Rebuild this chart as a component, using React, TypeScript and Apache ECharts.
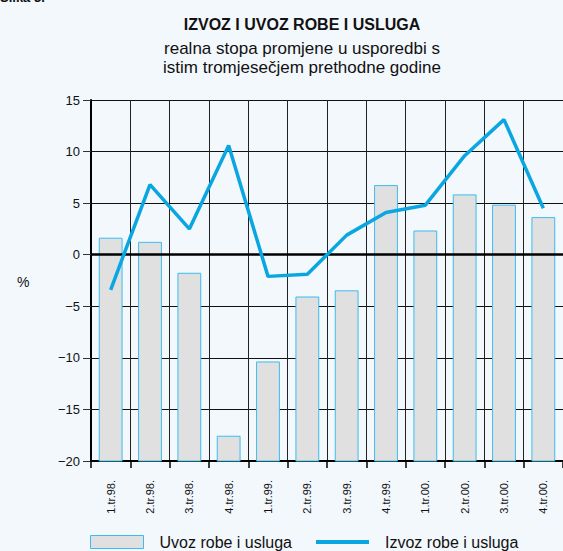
import React, { useEffect, useRef } from "react";
import * as echarts from "echarts";

const categories = ["1.tr.98.", "2.tr.98.", "3.tr.98.", "4.tr.98.", "1.tr.99.", "2.tr.99.", "3.tr.99.", "4.tr.99.", "1.tr.00.", "2.tr.00.", "3.tr.00.", "4.tr.00."];
const uvoz = [1.6, 1.2, -1.8, -17.6, -10.4, -4.1, -3.5, 6.7, 2.3, 5.8, 4.8, 3.6];
const izvoz = [-3.4, 6.8, 2.5, 10.6, -2.1, -1.9, 1.9, 4.1, 4.8, 9.6, 13.1, 4.5];
const titleText = "IZVOZ I UVOZ ROBE I USLUGA";
const subtitleLines = ["realna stopa promjene u usporedbi s", "istim tromjesečjem prethodne godine"];
const seriesNames = ["Uvoz robe i usluga", "Izvoz robe i usluga"];
const yMin = -20;
const yMax = 15;
const yStep = 5;

const FONT = "'Liberation Sans', Arial, sans-serif";
const BAR_FILL = "#e0e0e0";
const BAR_BORDER = "#3bbcee";
const LINE_COLOR = "#0aa6e2";

export default function App() {
  const ref = useRef<HTMLDivElement>(null);
  useEffect(() => {
    document.body.style.margin = "0";
    const chart = echarts.init(ref.current!, null, { renderer: "svg" });
    chart.setOption({
      animation: false,
      backgroundColor: "#f3f8fd",
      textStyle: { fontFamily: FONT },
      title: [
        { text: titleText, left: 302, top: 16, textAlign: "center", padding: 0, textStyle: { fontSize: 16, fontWeight: "bold", color: "#111", fontFamily: FONT } },
        { text: subtitleLines.join("\n"), left: 302, top: 39, textAlign: "center", padding: 0, textStyle: { fontSize: 17, fontWeight: "normal", color: "#111", lineHeight: 19, fontFamily: FONT } },
      ],
      graphic: [
        { type: "text", left: 0, top: -9, style: { text: "Slika 3.", font: "bold 13px " + FONT, fill: "#111" } },
        { type: "text", left: 17, top: 275, style: { text: "%", font: "14px " + FONT, fill: "#111" } },
      ],
      legend: {
        top: 534,
        left: 90,
        padding: 0,
        itemWidth: 53,
        itemHeight: 13,
        itemGap: 24,
        textStyle: { fontSize: 16, color: "#111", padding: [0, 0, 0, 11], fontFamily: FONT },
        data: [
          { name: seriesNames[0], icon: "rect", itemStyle: { color: BAR_FILL, borderColor: BAR_BORDER, borderWidth: 1 } },
          { name: seriesNames[1], icon: "path://M0,0H52V4H0Z", itemStyle: { color: LINE_COLOR } },
        ],
      },
      grid: { left: 91, right: -2, top: 100, bottom: 90, containLabel: false },
      xAxis: {
        type: "category",
        data: categories,
        boundaryGap: true,
        position: "bottom",
        axisLine: { onZero: false, lineStyle: { color: "#000", width: 2 } },
        axisTick: { show: true, length: 7, inside: false, lineStyle: { color: "#000", width: 1.5 } },
        splitLine: { show: true, lineStyle: { color: "#222", width: 1 } },
        axisLabel: { rotate: 90, margin: 19, fontSize: 11, color: "#111", fontFamily: FONT },
      },
      yAxis: {
        type: "value",
        min: yMin,
        max: yMax,
        interval: yStep,
        axisLine: { show: true, lineStyle: { color: "#000", width: 2 } },
        axisTick: { show: true, length: 8, lineStyle: { color: "#333", width: 1 } },
        splitLine: { show: true, lineStyle: { color: "#111", width: 1 } },
        axisLabel: {
          margin: 11,
          fontSize: 13,
          color: "#111",
          fontFamily: FONT,
          formatter: (v: number) => (v < 0 ? "\u2212" + Math.abs(v) : String(v)),
        },
      },
      series: [
        {
          name: seriesNames[0],
          type: "custom",
          data: uvoz.map((v, i) => [i, v]),
          encode: { x: 0, y: 1 },
          itemStyle: { color: BAR_FILL, borderColor: BAR_BORDER, borderWidth: 1 },
          renderItem: (params: any, api: any) => {
            const idx = api.value(0);
            const val = api.value(1);
            const top = api.coord([idx, val]);
            const base = api.coord([idx, yMin]);
            const w = api.size([1, 0])[0] * 0.58;
            return {
              type: "rect",
              shape: { x: top[0] - w / 2, y: top[1], width: w, height: base[1] - top[1] },
              style: { fill: BAR_FILL, stroke: BAR_BORDER, lineWidth: 1 },
            };
          },
          z: 3,
        },
        {
          name: seriesNames[1],
          type: "line",
          data: izvoz,
          symbol: "none",
          lineStyle: { color: LINE_COLOR, width: 3.5 },
          itemStyle: { color: LINE_COLOR },
          z: 6,
          markLine: {
            silent: true,
            symbol: ["none", "none"],
            label: { show: false },
            lineStyle: { color: "#000", width: 2.5, type: "solid" },
            data: [{ yAxis: 0 }],
          },
        },
      ],
    });
    return () => chart.dispose();
  }, []);
  return <div ref={ref} style={{ position: "fixed", left: 0, top: 0, width: 563, height: 551 }} />;
}
